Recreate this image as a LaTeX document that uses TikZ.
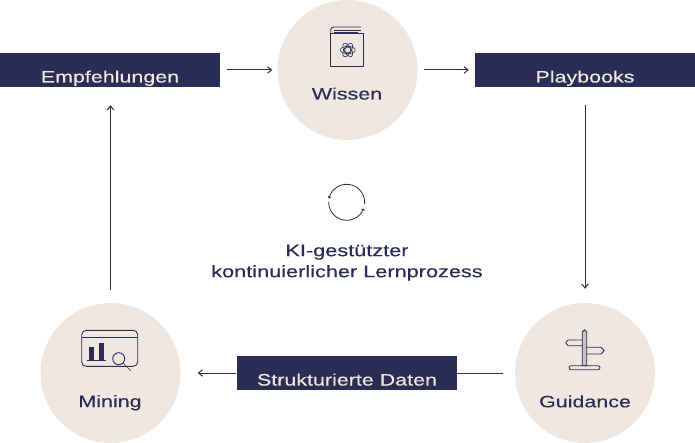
\documentclass[tikz,border=0pt]{standalone}
\usepackage{fontspec}
\setmainfont[FakeStretch=1.3,FakeBold=0.25]{Liberation Sans}
\usetikzlibrary{arrows.meta,calc}
\definecolor{navy}{HTML}{2A2D55}
\definecolor{sand}{HTML}{F0E8E0}
\tikzset{
  hub/.style={circle,fill=sand,minimum size=140pt,inner sep=0pt},
  band/.style={rectangle,fill=navy,minimum width=220pt,minimum height=34pt,inner sep=0pt},
  hublabel/.style={text=navy,font=\fontsize{16.5}{18}\selectfont,inner sep=0pt,anchor=base},
  bandlabel/.style={text=sand,font=\fontsize{16.5}{18}\selectfont,inner sep=0pt,anchor=base},
  midlabel/.style={text=navy,font=\fontsize{16.7}{21}\selectfont,align=center,inner sep=0pt},
  conn/.style={draw=navy,line width=1pt},
  arr/.style={conn,-{Straight Barb[length=4pt,width=6.5pt,line width=1pt]}},
  icon/.style={draw=navy,line width=0.9pt,line join=round},
  iconfill/.style={fill=navy}
}
\begin{document}
\begin{tikzpicture}[x=1pt,y=-1pt]
\useasboundingbox (0,0) rectangle (695,443);
% hubs and bands
\node[hub] (wis) at (347.5,70) {};
\node[hub] (min) at (110.5,373) {};
\node[hub] (gui) at (585,373) {};
\node[band] (emp) at (110,70) {};
\node[band] (pla) at (585,70) {};
\node[band] (str) at (346.5,373) {};
% labels
\node[hublabel] (wist) at (347,99.5) {Wissen};
\node[hublabel] (mint) at (110,407) {Mining};
\node[hublabel] (guit) at (585,407.3) {Guidance};
\node[bandlabel] (empt) at (110,82.5) {Empfehlungen};
\node[bandlabel] (plat) at (585,82.5) {Playbooks};
\node[bandlabel] (strt) at (347,385.5) {Strukturierte Daten};
\node[midlabel] (mid) at (347,262.7) {KI-gestützter\\kontinuierlicher Lernprozess};
% connectors
\draw[arr,shorten <=7pt,shorten >=5pt] (emp.east) -- (wis.west);
\draw[arr,shorten <=6.5pt,shorten >=6pt] (wis.east) -- (pla.west);
\draw[arr,shorten <=18pt,shorten >=14pt] (pla.south) -- (gui.north);
\draw[conn,shorten <=12pt] (gui.west) -- (str.east);
\draw[arr,shorten >=17pt] (str.west) -- (min.east);
\draw[arr,shorten <=13pt,shorten >=18pt] (min.north) -- (min.north |- emp.south);
% book icon
\draw[icon,fill=none] (330.7,33.3) rectangle (363.3,66.3);
\draw[icon] (330.7,33.3) -- (330.7,30) .. controls (330.7,28) and (332,27) .. (334,27) -- (361,27);
\draw[icon,line width=0.7pt] (333.5,30) -- (361,30) (333.5,32) -- (358,32);
\foreach \a in {0,60,120}{
  \draw[icon,line width=0.6pt,rotate around={\a:(347.7,50)}] (347.7,50) ellipse[x radius=7.5pt,y radius=3.6pt];
}
\draw[icon,line width=0.6pt] (347.7,50) circle[radius=3pt];
% mining icon
\draw[icon,rounded corners=4.5pt] (81.7,330.3) rectangle (137.7,366.3);
\draw[icon] (81.7,337.3) -- (137.7,337.3);
\fill[iconfill] (88.7,347) rectangle (94.3,360.3);
\fill[iconfill] (98.7,342.7) rectangle (104,360.3);
\draw[icon] (86.7,360.8) -- (105.7,360.8);
\draw[icon,fill=sand] (118.7,358.7) circle[radius=6pt];
\draw[icon,line width=0.6pt] (123,363) -- (130.7,370.7);
% guidance icon
\draw[icon,line width=0.8pt,fill=sand!80!navy] (582.3,365.7) -- (582.3,332) -- (584.5,329.7) -- (586.7,332) -- (586.7,365.7) -- cycle;
\draw[icon,line width=0.8pt] (582.3,340) -- (568,340) -- (565.7,342.8) -- (568,345.7) -- (582.3,345.7);
\draw[icon,line width=0.8pt] (586.7,347.3) -- (601,347.3) -- (604.3,350.6) -- (601,354) -- (586.7,354);
\draw[icon,line width=0.8pt,rounded corners=2pt] (569,365.7) rectangle (600,369.7);
% cycle icon
\coordinate (cyc) at (346.7,202.3);
\draw[icon,line width=0.8pt,-{Straight Barb[length=1.5pt,width=3pt]}] ($(cyc)+(-5:18pt)$) arc[start angle=-5,end angle=168,radius=18pt];
\draw[icon,line width=0.8pt,-{Straight Barb[length=1.5pt,width=3pt]}] ($(cyc)+(178:18pt)$) arc[start angle=178,end angle=340,radius=18pt];
\end{tikzpicture}
\end{document}
